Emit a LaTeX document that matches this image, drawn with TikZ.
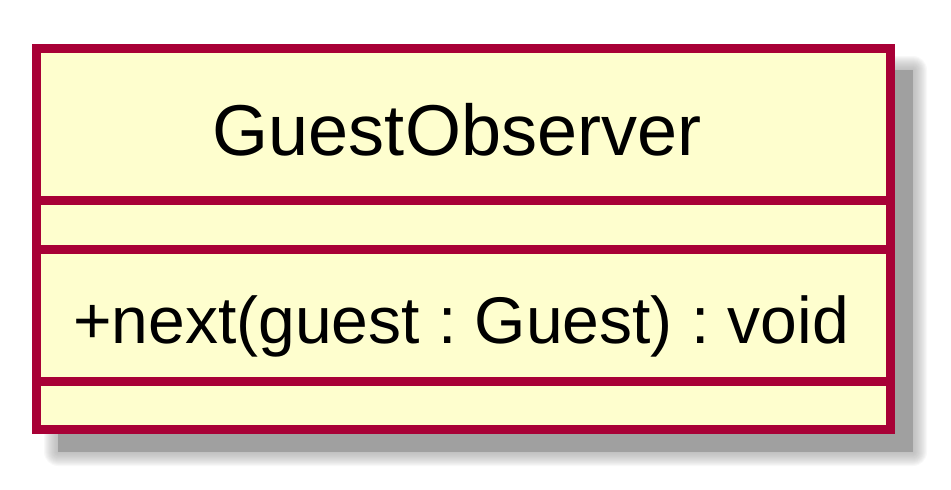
\documentclass[tikz,border=0pt]{standalone}
\usepackage{fontspec}
\setmainfont{Liberation Sans}
\definecolor{umlborder}{HTML}{A80036}
\definecolor{umlfill}{HTML}{FEFECE}
\definecolor{umlshadow}{HTML}{A0A0A0}
\tikzset{
  classbox/.style={draw=umlborder, line width=9pt, fill=umlfill},
  sepline/.style={draw=umlborder, line width=9pt},
  titletext/.style={inner sep=0pt, anchor=base, font=\fontsize{72}{80}\selectfont},
  membertext/.style={inner sep=0pt, anchor=base west, font=\fontsize{66}{74}\selectfont}
}
\frenchspacing
\begin{document}
\begin{tikzpicture}[x=1pt,y=-1pt]
\useasboundingbox (0,0) rectangle (951,490);
% shadow
\foreach \r in {1,...,14}{
  \fill[umlshadow, opacity=0.07, rounded corners=\r pt] (58-\r,70-\r) rectangle (913+\r,452+\r);
}
\fill[umlshadow] (58,70) rectangle (913,452);
% class box
\draw[classbox] (36.5,48.5) rectangle (890.5,429.5);
\draw[sepline] (36.5,200.5) -- (890.5,200.5);
\draw[sepline] (36.5,249.5) -- (890.5,249.5);
\draw[sepline] (36.5,381.5) -- (890.5,381.5);
\node[titletext] (title) at (457,155) {GuestObserver};
\node[membertext] (method) at (73,343) {+next(guest : Guest) : void};
\end{tikzpicture}
\end{document}
